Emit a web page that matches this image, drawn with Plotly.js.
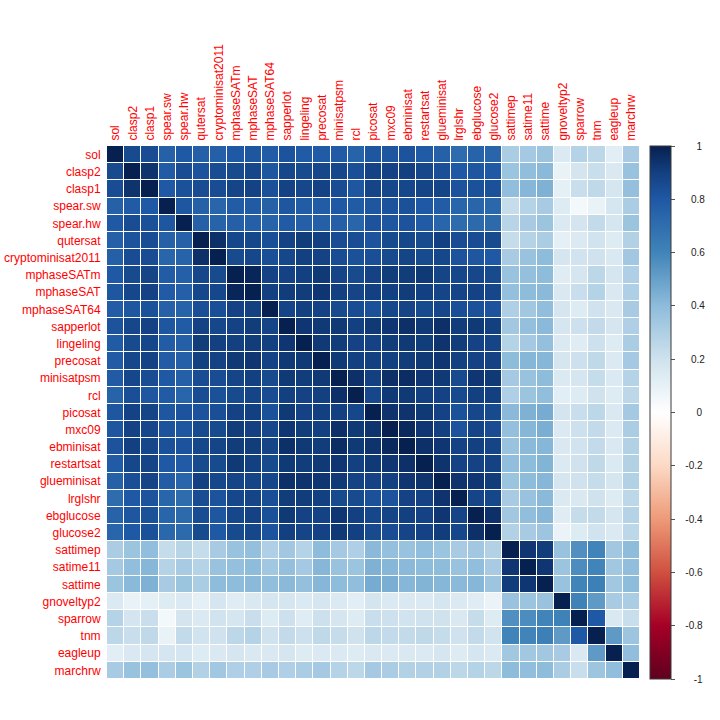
<!DOCTYPE html>
<html>
<head>
<meta charset="utf-8">
<script src="https://cdn.plot.ly/plotly-3.0.1.min.js"></script>
<style>html,body{margin:0;padding:0;background:#fff}#chart{width:720px;height:720px}</style>
</head>
<body>
<div id="chart"></div>
<script>
const solvers = ["sol","clasp2","clasp1","spear.sw","spear.hw","qutersat","cryptominisat2011","mphaseSATm","mphaseSAT","mphaseSAT64","sapperlot","lingeling","precosat","minisatpsm","rcl","picosat","mxc09","ebminisat","restartsat","glueminisat","lrglshr","ebglucose","glucose2","sattimep","satime11","sattime","gnoveltyp2","sparrow","tnm","eagleup","marchrw"];

// Upper triangle of the correlation matrix, one list per row, starting at the diagonal.
const rowSol = [1,.86,.85,.76,.80,.77,.77,.80,.81,.78,.82,.79,.79,.79,.75,.81,.81,.82,.79,.76,.71,.75,.74,.31,.33,.36,.15,.28,.26,.12,.32];
const rowClasp2 = [1,.94,.79,.85,.82,.85,.86,.87,.81,.87,.86,.87,.87,.84,.89,.89,.90,.87,.84,.80,.81,.80,.36,.39,.41,.09,.18,.22,.16,.37];
const rowClasp1 = [1,.80,.83,.85,.85,.88,.89,.83,.89,.87,.89,.85,.81,.88,.87,.87,.88,.88,.82,.83,.83,.39,.42,.44,.11,.22,.25,.17,.38];
const rowSpearSw = [1,.81,.76,.74,.78,.79,.76,.81,.78,.78,.80,.79,.81,.82,.83,.80,.78,.74,.74,.73,.23,.28,.32,.14,.05,.09,.17,.31];
const rowSpearHw = [1,.76,.75,.77,.77,.75,.79,.77,.77,.77,.74,.82,.81,.82,.79,.74,.71,.72,.72,.27,.32,.36,.15,.18,.24,.17,.36];
const rowQutersat = [1,.95,.87,.87,.84,.89,.91,.90,.85,.85,.82,.86,.87,.86,.90,.85,.85,.86,.23,.28,.31,.11,.15,.19,.14,.29];
const rowCrypto = [1,.86,.87,.84,.87,.90,.89,.85,.83,.84,.86,.88,.86,.87,.82,.81,.80,.32,.37,.40,.17,.19,.20,.16,.34];
const rowMphaseM = [1,.98,.89,.89,.90,.92,.88,.86,.89,.91,.91,.92,.88,.87,.87,.86,.37,.38,.40,.13,.17,.26,.17,.30];
const rowMphase = [1,.90,.91,.91,.93,.90,.88,.90,.90,.91,.90,.88,.88,.89,.87,.38,.40,.41,.16,.22,.28,.16,.30];
const rowMphase64 = [1,.88,.90,.89,.86,.85,.83,.87,.88,.86,.87,.84,.83,.82,.30,.34,.39,.17,.14,.20,.16,.32];
const rowSapperlot = [1,.93,.92,.92,.90,.92,.93,.95,.92,.95,.91,.92,.90,.34,.38,.41,.17,.21,.24,.17,.30];
const rowLingeling = [1,.92,.91,.89,.89,.91,.92,.91,.94,.91,.89,.88,.28,.33,.38,.15,.13,.21,.14,.31];
const rowPrecosat = [1,.92,.90,.90,.90,.91,.92,.93,.90,.89,.89,.40,.42,.42,.17,.21,.25,.15,.33];
const rowMinisat = [1,.95,.90,.95,.96,.93,.92,.86,.93,.92,.33,.37,.40,.15,.17,.23,.15,.28];
const rowRcl = [1,.87,.92,.92,.90,.89,.86,.90,.90,.30,.36,.39,.12,.14,.20,.14,.26];
const rowPicosat = [1,.94,.94,.92,.89,.83,.87,.86,.41,.44,.46,.18,.22,.26,.16,.33];
const rowMxc09 = [1,.97,.93,.90,.82,.88,.85,.38,.42,.45,.15,.21,.24,.15,.31];
const rowEbminisat = [1,.95,.93,.89,.90,.88,.37,.41,.42,.16,.19,.24,.16,.29];
const rowRestartsat = [1,.94,.89,.89,.89,.39,.40,.43,.15,.20,.25,.15,.29];
const rowGlueminisat = [1,.94,.93,.91,.36,.40,.42,.17,.20,.23,.17,.29];
const rowLrglshr = [1,.88,.87,.32,.37,.41,.15,.16,.20,.14,.26];
const rowEbglucose = [1,.95,.34,.39,.42,.13,.23,.24,.17,.28];
const rowGlucose2 = [1,.29,.32,.35,.08,.14,.19,.15,.26];
const rowSattimep = [1,.93,.91,.37,.56,.60,.34,.40];
const rowSatime11 = [1,.93,.36,.57,.60,.34,.39];
const rowSattime = [1,.37,.60,.62,.34,.40];
const rowGnovelty = [1,.61,.52,.32,.31];
const rowSparrow = [1,.80,.16,.22];
const rowTnm = [1,.52,.35];
const rowEagleup = [1,.39];
const rowMarchrw = [1];

const upperRows = [rowSol,rowClasp2,rowClasp1,rowSpearSw,rowSpearHw,rowQutersat,rowCrypto,rowMphaseM,rowMphase,rowMphase64,rowSapperlot,rowLingeling,rowPrecosat,rowMinisat,rowRcl,rowPicosat,rowMxc09,rowEbminisat,rowRestartsat,rowGlueminisat,rowLrglshr,rowEbglucose,rowGlucose2,rowSattimep,rowSatime11,rowSattime,rowGnovelty,rowSparrow,rowTnm,rowEagleup,rowMarchrw];

const matrix = solvers.map((_, i) => solvers.map((_, j) =>
  j >= i ? upperRows[i][j - i] : upperRows[j][i - j]));

const barTicks = [1,0.8,0.6,0.4,0.2,0,-0.2,-0.4,-0.6,-0.8,-1];
const barLabels = ["1","0.8","0.6","0.4","0.2","0","-0.2","-0.4","-0.6","-0.8","-1"];
const barPad = {1:7, 3:5, 4:3, 2:6};   // non-breaking spaces that centre each label
const paddedLabels = barLabels.map(s => "\u00a0".repeat(barPad[s.length]) + s);

const palette = [
  [0.0,"#5f001f"],[0.1,"#a50026"],[0.2,"#cf5040"],[0.3,"#ee9a78"],[0.4,"#fcd9c5"],
  [0.5,"#ffffff"],[0.6,"#cfe2ee"],[0.7,"#8ebcdb"],[0.8,"#4084b9"],[0.9,"#1f58a4"],
  [0.95,"#134080"],[1.0,"#062050"]
];

const trace = {
  type: "heatmap",
  x: solvers, y: solvers, z: matrix,
  zmin: -1, zmax: 1,
  colorscale: palette,
  xgap: 1, ygap: 1,
  colorbar: {
    thickness: 21, thicknessmode: "pixels",
    len: 533, lenmode: "pixels",
    x: 1.0188, xanchor: "left", xpad: 0,
    y: 0.5, yanchor: "middle", ypad: 0,
    outlinecolor: "#3a3a3a", outlinewidth: 1,
    borderwidth: 0,
    tickmode: "array", tickvals: barTicks, ticktext: paddedLabels,
    ticks: "outside", ticklen: 4, tickwidth: 1, tickcolor: "#555",
    tickfont: {family: "Liberation Sans, Arial, sans-serif", size: 10, color: "#222"}
  }
};

const labelFont = {family: "Liberation Sans, Arial, sans-serif", size: 12, color: "#ff0000"};
const axisBase = {
  type: "category", showgrid: false, zeroline: false, showline: false,
  ticks: "outside", ticklen: 3, tickcolor: "rgba(0,0,0,0)", tickfont: labelFont,
  automargin: false, fixedrange: true, tickmode: "array", tickvals: solvers, ticktext: solvers
};

const layout = {
  width: 720, height: 720,
  margin: {l: 107, r: 80, t: 146, b: 41, pad: 0},
  paper_bgcolor: "#fff", plot_bgcolor: "#fff",
  xaxis: Object.assign({}, axisBase, {side: "top", tickangle: -90, ticklen: 2, range: [-0.5, 30.5]}),
  yaxis: Object.assign({}, axisBase, {range: [30.5, -0.5]})
};

Plotly.newPlot("chart", [trace], layout, {displayModeBar: false, staticPlot: true});
</script>
</body>
</html>
